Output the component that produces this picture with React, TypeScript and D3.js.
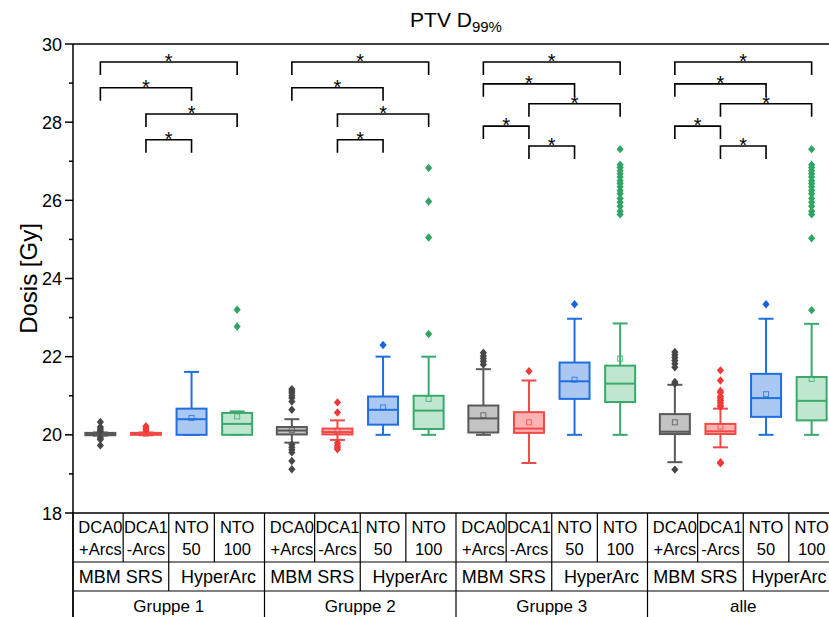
import React from "react";
import * as d3 from "d3";

// Axis and category labels
const title = "PTV D";
const titleSub = "99%";
const yLabel = "Dosis [Gy]";
const yTicks = [18, 20, 22, 24, 26, 28, 30];
const yMinorTicks = [19, 21, 23, 25, 27, 29];
const groups = ["Gruppe 1", "Gruppe 2", "Gruppe 3", "alle"];
const methodLine1 = ["DCA0", "DCA1", "NTO", "NTO"];
const methodLine2 = ["+Arcs", "-Arcs", "50", "100"];
const systems = ["MBM SRS", "HyperArc"];

type Box = { lo: number; q1: number; med: number; q3: number; hi: number; mean: number; out: number[] };

// Box statistics per method, one entry per group
const dca0Stats: Box[] = [
  { lo: 19.98, q1: 19.99, med: 20.02, q3: 20.05, hi: 20.06, mean: 20.02, out: [20.33, 20.2, 20.15, 20.1, 19.92, 19.88, 19.73] },
  { lo: 19.8, q1: 20.01, med: 20.11, q3: 20.2, hi: 20.4, mean: 20.12, out: [21.17, 21.12, 21.07, 21.0, 20.94, 20.85, 20.64, 19.75, 19.68, 19.62, 19.55, 19.33, 19.12] },
  { lo: 20.0, q1: 20.06, med: 20.42, q3: 20.75, hi: 21.68, mean: 20.5, out: [22.1, 22.02, 21.95, 21.88, 21.8] },
  { lo: 19.3, q1: 20.02, med: 20.08, q3: 20.53, hi: 21.28, mean: 20.32, out: [22.12, 22.05, 21.98, 21.9, 21.82, 21.73, 21.35, 21.31, 19.11] },
];
const dca1Stats: Box[] = [
  { lo: 19.99, q1: 20.0, med: 20.03, q3: 20.05, hi: 20.06, mean: 20.03, out: [20.22, 20.17, 20.12] },
  { lo: 19.87, q1: 20.01, med: 20.07, q3: 20.16, hi: 20.37, mean: 20.1, out: [20.83, 20.57, 19.79, 19.72, 19.67, 19.63] },
  { lo: 19.28, q1: 20.05, med: 20.16, q3: 20.58, hi: 21.39, mean: 20.32, out: [21.63] },
  { lo: 19.68, q1: 20.02, med: 20.09, q3: 20.28, hi: 20.67, mean: 20.21, out: [21.65, 21.39, 21.12, 21.08, 20.98, 20.93, 20.88, 20.82, 20.76, 20.72, 19.3, 19.27] },
];
const nto50Stats: Box[] = [
  { lo: 20.0, q1: 20.0, med: 20.4, q3: 20.67, hi: 21.61, mean: 20.43, out: [] },
  { lo: 20.0, q1: 20.26, med: 20.64, q3: 20.98, hi: 22.0, mean: 20.7, out: [22.3] },
  { lo: 20.0, q1: 20.92, med: 21.37, q3: 21.85, hi: 22.97, mean: 21.41, out: [23.34] },
  { lo: 20.0, q1: 20.46, med: 20.94, q3: 21.56, hi: 22.97, mean: 21.04, out: [23.34] },
];
const nto100Stats: Box[] = [
  { lo: 20.0, q1: 20.0, med: 20.28, q3: 20.56, hi: 20.6, mean: 20.47, out: [22.77, 23.2] },
  { lo: 20.0, q1: 20.15, med: 20.62, q3: 21.0, hi: 22.0, mean: 20.92, out: [22.58, 25.05, 25.97, 26.83] },
  { lo: 20.0, q1: 20.84, med: 21.31, q3: 21.77, hi: 22.85, mean: 21.95, out: [27.31, 26.91, 26.84, 26.76, 26.68, 26.6, 26.5, 26.43, 26.35, 26.25, 26.17, 26.05, 25.95, 25.85, 25.72, 25.64] },
  { lo: 20.0, q1: 20.37, med: 20.87, q3: 21.48, hi: 22.84, mean: 21.43, out: [27.31, 26.91, 26.84, 26.76, 26.68, 26.6, 26.5, 26.43, 26.35, 26.25, 26.17, 26.05, 25.95, 25.85, 25.72, 25.64, 25.03, 23.19] },
];

// Significance brackets: [from method, to method, bracket height in Gy]
const bracketsSmall: [number, number, number][] = [
  [0, 3, 29.54], [0, 2, 28.88], [1, 3, 28.21], [1, 2, 27.55],
];
const bracketsLarge: [number, number, number][] = [
  [0, 3, 29.54], [0, 2, 28.98], [1, 3, 28.47], [0, 1, 27.9], [1, 2, 27.39],
];
const bracketsPerGroup = [bracketsSmall, bracketsSmall, bracketsLarge, bracketsLarge];

const methodStats = [dca0Stats, dca1Stats, nto50Stats, nto100Stats];
const strokeColors = ["#595959", "#f24848", "#1f6fe0", "#3aaa6c"];
const fillColors = ["#c3c3c3", "#ffb4b4", "#abc8f2", "#bfe6cf"];
const outlierColors = ["#474747", "#f03a3a", "#1664e0", "#2fa563"];

const W = 829;
const H = 617;
const left = 73;
const right = 839;
const top = 44;
const bottom = 513;
const groupGap = 1.2;
const font = "'Liberation Sans', Arial, sans-serif";

export default function App() {
  const pos = (g: number, i: number) => g * (3 + groupGap) + i;
  const x = d3.scaleLinear().domain([-groupGap / 2, pos(3, 3) + groupGap / 2]).range([left, right]);
  const y = d3.scaleLinear().domain([18, 30]).range([bottom, top]);
  const boxW = 30;
  const capW = 15;

  const row1 = 562;
  const row2 = 591;

  const boundaries: number[] = [];
  groups.forEach((_, g) => {
    boundaries.push(x(pos(g, 0) - groupGap / 2));
  });
  boundaries.push(x(pos(3, 3) + groupGap / 2));

  return (
    <svg width={W} height={H} style={{ position: "absolute", left: 0, top: 0 }} fontFamily={font}>
      <rect width={W} height={H} fill="#fff" />
      {/* Title */}
      <text x={456} y={27} textAnchor="middle" fontSize={21}>
        {title}
        <tspan fontSize={15} dy={5}>{titleSub}</tspan>
      </text>

      {/* Y axis */}
      <line x1={left} x2={left} y1={top} y2={H} stroke="#000" strokeWidth={1.5} />
      <line x1={left} x2={W} y1={top} y2={top} stroke="#000" strokeWidth={1.5} />
      <line x1={left} x2={W} y1={bottom} y2={bottom} stroke="#000" strokeWidth={1.5} />
      {yTicks.map((t) => (
        <g key={t}>
          <line x1={left - 8} x2={left} y1={y(t)} y2={y(t)} stroke="#000" strokeWidth={1.5} />
          <text x={left - 11} y={y(t) + 6.5} textAnchor="end" fontSize={18}>{t}</text>
        </g>
      ))}
      {yMinorTicks.map((t) => (
        <line key={t} x1={left - 4} x2={left} y1={y(t)} y2={y(t)} stroke="#000" strokeWidth={1.5} />
      ))}
      <text transform={`translate(37,${(top + bottom) / 2}) rotate(-90)`} textAnchor="middle" fontSize={24}>{yLabel}</text>

      {/* Boxes */}
      {groups.map((_, g) =>
        methodStats.map((stats, i) => {
          const s = stats[g];
          const cx = x(pos(g, i));
          const sc = strokeColors[i];
          return (
            <g key={`${g}-${i}`}>
              <line x1={cx} x2={cx} y1={y(s.hi)} y2={y(s.q3)} stroke={sc} strokeWidth={2} />
              <line x1={cx} x2={cx} y1={y(s.q1)} y2={y(s.lo)} stroke={sc} strokeWidth={2} />
              <line x1={cx - capW / 2} x2={cx + capW / 2} y1={y(s.hi)} y2={y(s.hi)} stroke={sc} strokeWidth={2} />
              <line x1={cx - capW / 2} x2={cx + capW / 2} y1={y(s.lo)} y2={y(s.lo)} stroke={sc} strokeWidth={2} />
              <rect x={cx - boxW / 2} y={y(s.q3)} width={boxW} height={Math.max(y(s.q1) - y(s.q3), 0.5)} fill={fillColors[i]} stroke={sc} strokeWidth={2} />
              <line x1={cx - boxW / 2} x2={cx + boxW / 2} y1={y(s.med)} y2={y(s.med)} stroke={sc} strokeWidth={2} />
              <rect x={cx - 2.5} y={y(s.mean) - 2.5} width={5} height={5} fill="none" stroke={sc} strokeWidth={1} opacity={0.8} />
              {s.out.map((v, k) => (
                <path key={k} d={`M${cx},${y(v) - 4.2}L${cx + 3.6},${y(v)}L${cx},${y(v) + 4.2}L${cx - 3.6},${y(v)}Z`} fill={outlierColors[i]} />
              ))}
            </g>
          );
        })
      )}

      {/* Significance brackets */}
      {bracketsPerGroup.map((list, g) =>
        list.map(([a, b, lv], k) => {
          const x1 = x(pos(g, a));
          const x2 = x(pos(g, b));
          const yy = y(lv);
          return (
            <g key={`${g}-b${k}`}>
              <path d={`M${x1},${yy + 13}V${yy}H${x2}V${yy + 13}`} fill="none" stroke="#000" strokeWidth={1.6} />
              <text x={(x1 + x2) / 2} y={yy + 6} textAnchor="middle" fontSize={20}>*</text>
            </g>
          );
        })
      )}

      {/* Category table below the axis */}
      <line x1={left} x2={W} y1={row1} y2={row1} stroke="#000" strokeWidth={1.2} />
      <line x1={left} x2={W} y1={row2} y2={row2} stroke="#000" strokeWidth={1.2} />
      {boundaries.map((bx, k) => (
        <line key={`gb${k}`} x1={bx} x2={bx} y1={bottom} y2={H} stroke="#000" strokeWidth={1.2} />
      ))}
      {groups.map((name, g) => {
        const mids = [0, 1, 2].map((i) => x(pos(g, i) + 0.5));
        const g0 = x(pos(g, 0) - groupGap / 2);
        const g1 = x(pos(g, 3) + groupGap / 2);
        // keep the right-hand system label inside the visible area
        const sysX = Math.min((mids[1] + g1) / 2 + 2, W - 40);
        return (
          <g key={`t${g}`}>
            {mids.map((mx, k) => (
              <line key={k} x1={mx} x2={mx} y1={bottom} y2={row1} stroke="#000" strokeWidth={1.2} />
            ))}
            <line x1={mids[1]} x2={mids[1]} y1={row1} y2={row2} stroke="#000" strokeWidth={1.2} />
            {methodLine1.map((m, i) => (
              <text key={`m${i}`} x={x(pos(g, i))} textAnchor="middle" fontSize={16.5}>
                <tspan x={x(pos(g, i))} y={533}>{m}</tspan>
                <tspan x={x(pos(g, i))} y={555}>{methodLine2[i]}</tspan>
              </text>
            ))}
            <text x={(g0 + mids[1]) / 2} y={583} textAnchor="middle" fontSize={18}>{systems[0]}</text>
            <text x={sysX} y={583} textAnchor="middle" fontSize={18}>{systems[1]}</text>
            <text x={(g0 + g1) / 2} y={612} textAnchor="middle" fontSize={17}>{name}</text>
          </g>
        );
      })}
    </svg>
  );
}
